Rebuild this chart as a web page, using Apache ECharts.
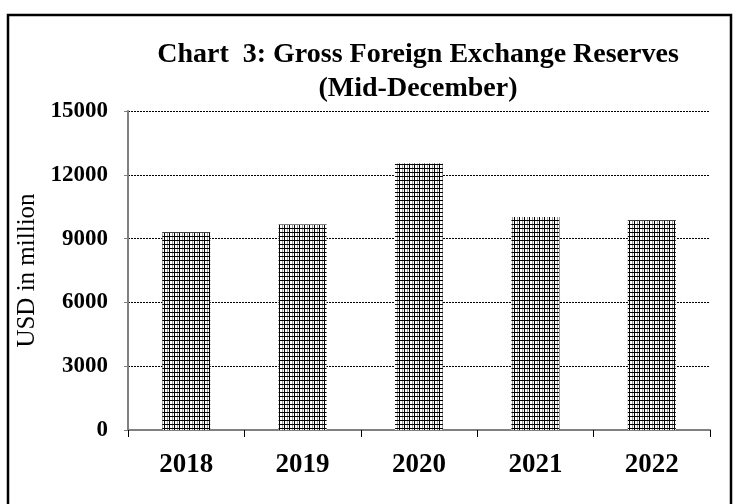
<!DOCTYPE html>
<html>
<head>
<meta charset="utf-8">
<script src="https://cdn.jsdelivr.net/npm/echarts@6/dist/echarts.min.js"></script>
<style>
html,body{margin:0;padding:0;background:#fff;}
#c{width:733px;height:504px;}
</style>
</head>
<body>
<div id="c"></div>
<script>
var categories = ['2018', '2019', '2020', '2021', '2022'];
var reserves = [9300, 9660, 12530, 10015, 9860];
var yTicks = [0, 3000, 6000, 9000, 12000, 15000];

function makePattern() {
  var cv = document.createElement('canvas');
  cv.width = 5; cv.height = 4;
  var ctx = cv.getContext('2d');
  ctx.fillStyle = '#ffffff';
  ctx.fillRect(0, 0, 5, 4);
  ctx.fillStyle = '#9a9a9a';
  ctx.fillRect(2, 0, 1, 4);
  ctx.fillStyle = '#000000';
  ctx.fillRect(0, 0, 5, 1);
  ctx.fillRect(4, 0, 1, 4);
  return cv;
}

var serif = "'Liberation Serif', 'Times New Roman', serif";
var chart = echarts.init(document.getElementById('c'), null, {renderer: 'canvas'});
chart.setOption({
  animation: false,
  backgroundColor: '#ffffff',
  title: {
    text: 'Chart  3: Gross Foreign Exchange Reserves\n(Mid-December)',
    left: 418, top: 38, textAlign: 'center', padding: 0,
    textStyle: {fontFamily: serif, fontWeight: 'bold', fontSize: 28, color: '#000', lineHeight: 34}
  },
  grid: {left: 128, right: 23, top: 111, bottom: 74, containLabel: false},
  xAxis: {
    type: 'category',
    data: categories,
    boundaryGap: true,
    axisLine: {lineStyle: {color: '#808080', width: 2}},
    axisTick: {show: true, length: 7, lineStyle: {color: '#000', width: 1}},
    axisLabel: {fontFamily: serif, fontWeight: 'bold', fontSize: 27, color: '#000', margin: 22}
  },
  yAxis: {
    type: 'value',
    min: yTicks[0], max: yTicks[yTicks.length - 1], interval: 3000,
    name: 'USD in million',
    nameLocation: 'middle',
    nameGap: 76,
    nameTextStyle: {fontFamily: serif, fontSize: 25, color: '#000'},
    axisLine: {show: true, lineStyle: {color: '#808080', width: 2}},
    axisTick: {show: true, length: 4, lineStyle: {color: '#808080'}},
    axisLabel: {fontFamily: serif, fontWeight: 'bold', fontSize: 23, color: '#000', margin: 20,
      formatter: function (v) { return String(v); }},
    splitLine: {show: true, lineStyle: {color: '#000', type: [2, 1], width: 1}}
  },
  series: [{
    type: 'bar',
    data: reserves,
    barWidth: 48,
    itemStyle: {color: {image: makePattern(), repeat: 'repeat'}}
  }],
  graphic: [{
    type: 'rect',
    shape: {x: 8, y: 15, width: 723, height: 520},
    style: {fill: 'none', stroke: '#000', lineWidth: 2.5},
    silent: true
  }]
});
</script>
</body>
</html>
